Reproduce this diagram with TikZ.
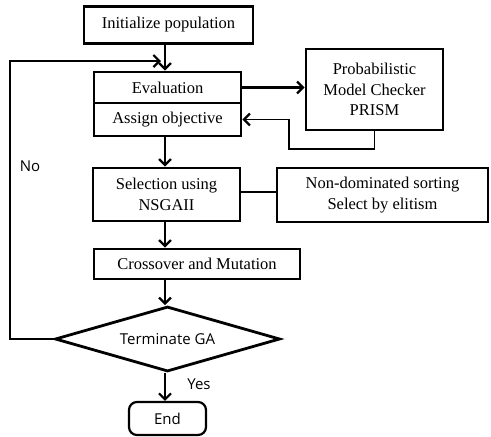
\documentclass[tikz,border=0pt]{standalone}
\usepackage{fontspec}
\setmainfont{Liberation Serif}
\newfontfamily\labelfont{Open Sans}
\usetikzlibrary{arrows.meta,shapes.geometric}
\begin{document}
\begin{tikzpicture}[x=1pt,y=-1pt,
  box/.style={draw,line width=2.8pt,inner sep=0pt,align=center,
    font=\fontsize{16.5}{20.5}\selectfont},
  tip/.style={-{Straight Barb[length=6pt,width=12pt,line width=2.2pt]}},
  flow/.style={line width=2.2pt,tip},
  link/.style={line width=2.2pt},
  thinflow/.style={line width=1.4pt,tip},
  sansfont/.style={font=\labelfont\fontsize{15}{17}\selectfont},
  tag/.style={sansfont,inner sep=0pt}]
\useasboundingbox (0,0) rectangle (491,437);

% process boxes
\node[box,minimum width=169pt,minimum height=37pt] (init) at (168.5,25) {Initialize population};
\node[box,minimum width=147pt,minimum height=31pt] (eval) at (167.5,87.5) {Evaluation};
\node[box,minimum width=147pt,minimum height=33pt] (assign) at (167.5,119.5) {Assign objective};
\node[box,minimum width=137pt,minimum height=81pt] (prism) at (374.5,89.5) {Probabilistic\\Model Checker\\PRISM};
\node[box,minimum width=147pt,minimum height=53pt] (sel) at (166.5,194.5) {Selection using\\NSGAII};
\node[box,minimum width=211pt,minimum height=54pt] (nondom) at (382.5,195) {Non-dominated sorting\\Select by elitism};
\node[box,minimum width=206pt,minimum height=30pt] (cross) at (197,264) {Crossover and Mutation};
\node[diamond,draw,line width=2.8pt,inner sep=0pt,aspect=3.46,
  minimum width=225pt,minimum height=65pt,sansfont]
  (dia) at (167.5,339) {Terminate GA};
\node[draw,line width=2.2pt,rounded corners=8pt,minimum width=77pt,minimum height=33pt,
  sansfont] (end) at (167.5,418.5) {End};

% helper points for the main column and the loops
\coordinate (spine) at (165,0);
\coordinate (fbtop) at (10,61);
\coordinate (fbend) at (161,61);
\coordinate (ret) at (289,149);

% main column
\draw[flow] (init.south -| spine) -- (eval.north -| spine);
\draw[flow] (assign.south -| spine) -- (sel.north -| spine);
\draw[flow] (sel.south -| spine) -- (cross.north -| spine);
\draw[flow] (cross.south -| spine) -- (dia.north -| spine);
\draw[flow] (dia.south -| spine) -- (end.north -| spine);

% model checker exchange
\draw[flow] (eval.east) -- (eval.east -| prism.west);
\draw[thinflow] (prism.south) |- (ret) |- (assign.east);

% selection details
\draw[link] (sel.east |- 0,192) -- (nondom.west |- 0,192);

% repeat loop
\draw[flow] (dia.west) -| (fbtop) -- (fbend);

% branch labels
\node[tag] (no) at (30,166) {No};
\node[tag] (yes) at (199,384) {Yes};
\end{tikzpicture}
\end{document}
